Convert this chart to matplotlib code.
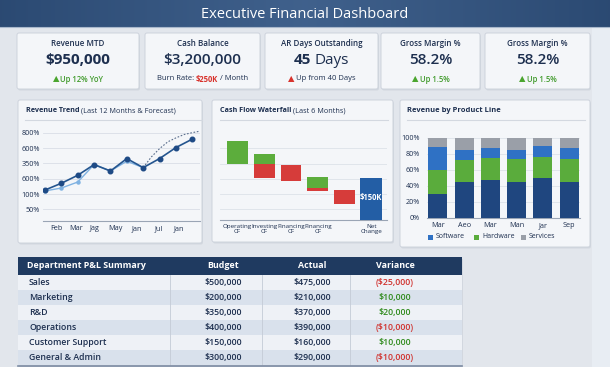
import numpy as np
import matplotlib
matplotlib.use('Agg')
import matplotlib.pyplot as plt
from matplotlib.patches import Rectangle, FancyBboxPatch

plt.rcParams['font.family'] = ['Open Sans', 'DejaVu Sans']

W, H = 610, 367

# ---------------- data ----------------
title = 'Executive Financial Dashboard'

kpi_titles = ['Revenue MTD', 'Cash Balance', 'AR Days Outstanding', 'Gross Margin %', 'Gross Margin %']
kpi_values = ['$950,000', '$3,200,000', '45', '58.2%', '58.2%']

trend_ylabels = ['50%', '100%', '600%', '350%', '600%', '800%']
trend_months = ['Feb', 'Mar', 'Jag', 'May', 'Jan', 'Jul', 'Jan']
trend_month_pos = [0.67, 1.88, 3.05, 4.28, 5.6, 6.92, 8.2]
trend_actual = [1.26, 1.70, 2.22, 2.92, 2.50, 3.31, 2.72, 3.31, 4.03, 4.58]
trend_prior = [1.20, 1.39, 1.78, 2.92, 2.50, 3.14, 2.72]
forecast_x = [6.0, 6.5, 7.0, 7.5, 8.0, 8.5, 9.0, 9.47]
forecast_y = [2.72, 3.42, 3.96, 4.40, 4.66, 4.88, 5.00, 5.10]

wf_labels = ['Operating\nCF', 'Investing\nCF', 'Financing\nCF', 'Financing\nCF', '', 'Net\nChange']
wf_green_bottom = [3.73, 3.73, 0, 2.11, 0, 0]
wf_green_top = [5.27, 4.38, 0, 2.89, 0, 0]
wf_red_bottom = [0, 2.78, 2.60, 1.96, 1.04, 0]
wf_red_top = [0, 3.73, 3.67, 2.11, 2.00, 0]
wf_net = [0, 0, 0, 0, 0, 2.78]
wf_net_label = '$150K'

prod_months = ['Mar', 'Aeo', 'Mar', 'Man', 'Jar', 'Sep']
prod_software = [30, 45, 47.5, 44, 50, 44]
prod_hardware = [30, 27, 26.5, 29, 26, 29]
prod_other = [28, 12, 13, 12, 13, 14]
prod_services = [11, 15, 12, 14, 10, 13]
prod_legend = ['Software', 'Hardware', 'Services']

dept = ['Sales', 'Marketing', 'R&D', 'Operations', 'Customer Support', 'General & Admin']
budget = [500000, 200000, 350000, 400000, 150000, 300000]
actual = [475000, 210000, 370000, 390000, 160000, 290000]

# ---------------- styling ----------------
NAVY = '#1d2f4f'
GREEN_T = '#3f9a2a'
RED_T = '#d8322c'
CARD = '#f4f6f9'
EDGE = '#cdd3dc'

fig = plt.figure(figsize=(W / 100, H / 100), dpi=100)
bg = fig.add_axes([0, 0, 1, 1])
bg.set_xlim(0, W)
bg.set_ylim(H, 0)
bg.axis('off')

# background
gx = np.linspace(0, 1, 200)[None, :]
base = np.array([0.888, 0.905, 0.928])
img = np.ones((100, 200, 3)) * base
img += 0.025 * (gx[..., None] > 0.97)
img = np.clip(img, 0, 1)
bg.imshow(img, extent=[0, W, H, 0], aspect='auto', zorder=0)

# header
hg = np.linspace(0, 1, 300)
hcol = np.zeros((1, 300, 3))
c1 = np.array([0.17, 0.29, 0.45])
c2 = np.array([0.25, 0.38, 0.55])
w = 1 - np.abs(hg - 0.5) * 2
hcol[0] = c1[None, :] * (1 - w[:, None]) + c2[None, :] * w[:, None]
bg.imshow(hcol, extent=[0, W, 27, 0], aspect='auto', zorder=1)
bg.plot([0, W], [27, 27], color='#a9b8cc', lw=0.8, zorder=2)
bg.text(W / 2, 14, title, color='white', fontsize=10.5, ha='center', va='center', zorder=3)

renderer = fig.canvas.get_renderer()


def rich(x, y, parts, ha='center'):
    """parts: list of (text, kwargs, gap_after_px)"""
    objs = []
    total = 0
    for s, kw, gap in parts:
        t = bg.text(0, y, s, ha='left', va='center', zorder=6, **kw)
        wdt = t.get_window_extent(renderer=renderer).width
        objs.append((t, wdt, gap))
        total += wdt + gap
    total -= parts[-1][2]
    start = x - total / 2 if ha == 'center' else x
    for t, wdt, gap in objs:
        t.set_x(start)
        start += wdt + gap


def panel(x0, y0, x1, y1, z=2):
    sh = FancyBboxPatch((x0 + 1, y0 + 1.5), x1 - x0, y1 - y0, boxstyle='round,pad=0,rounding_size=2',
                        fc='#c3cad4', ec='none', alpha=0.5, zorder=z)
    bg.add_patch(sh)
    p = FancyBboxPatch((x0, y0), x1 - x0, y1 - y0, boxstyle='round,pad=0,rounding_size=2',
                       fc=CARD, ec=EDGE, lw=0.7, zorder=z + 0.1)
    bg.add_patch(p)


# KPI cards
cards = [(17, 139), (145, 260), (265, 378), (381, 480), (485, 590)]
for i, (x0, x1) in enumerate(cards):
    panel(x0, 33, x1, 89)
    cx = (x0 + x1) / 2
    bg.text(cx, 44, kpi_titles[i], fontsize=5.8, fontweight='semibold', color=NAVY,
            ha='center', va='center', zorder=6)

c = [(a + b) / 2 for a, b in cards]
bg.text(c[0], 60.5, kpi_values[0], fontsize=11, fontweight='bold', color=NAVY, ha='center', va='center', zorder=6)
bg.text(c[1], 60.5, kpi_values[1], fontsize=11, fontweight='semibold', color=NAVY, ha='center', va='center', zorder=6)
rich(c[2], 60.5, [(kpi_values[2], dict(fontsize=11, fontweight='bold', color=NAVY), 3),
                  ('Days', dict(fontsize=11, color=NAVY), 0)])
bg.text(c[3], 60.5, kpi_values[3], fontsize=11, fontweight='semibold', color=NAVY, ha='center', va='center', zorder=6)
bg.text(c[4], 60.5, kpi_values[4], fontsize=11, fontweight='semibold', color=NAVY, ha='center', va='center', zorder=6)

tri_g = dict(fontsize=6, color='#4aa52e', family=['DejaVu Sans'])
tri_r = dict(fontsize=6, color='#d8322c', family=['DejaVu Sans'])
sub = dict(fontsize=5.5, fontweight='semibold', color=GREEN_T)
rich(c[0], 79, [('▲', tri_g, 1.5), ('Up 12% YoY', sub, 0)])
rich(c[1], 79, [('Burn Rate:', dict(fontsize=5.5, color=NAVY), 2),
                ('$250K', dict(fontsize=5.5, fontweight='bold', color=RED_T), 2),
                ('/ Month', dict(fontsize=5.5, color=NAVY), 0)])
rich(c[2], 79, [('▲', tri_r, 1.5), ('Up from 40 Days', dict(fontsize=5.5, color=NAVY), 0)])
rich(c[3], 79, [('▲', tri_g, 1.5), ('Up 1.5%', sub, 0)])
rich(c[4], 79, [('▲', tri_g, 1.5), ('Up 1.5%', sub, 0)])

# middle panels
panel(18, 100, 202, 243)
panel(212, 100, 393, 242)
panel(400, 100, 590, 247)
for (x0, x1) in [(25, 202), (220, 388), (407, 585)]:
    bg.plot([x0, x1], [120, 120], color='#d3d8e0', lw=0.8, zorder=5)

PT = 5.2
rich(26, 111, [('Revenue Trend', dict(fontsize=PT, fontweight='bold', color=NAVY), 1.8),
               ('(Last 12 Months & Forecast)', dict(fontsize=PT, color=NAVY), 0)], ha='left')
rich(220, 111, [('Cash Flow Waterfall', dict(fontsize=PT, fontweight='bold', color=NAVY), 1.8),
                ('(Last 6 Months)', dict(fontsize=PT, color=NAVY), 0)], ha='left')
rich(407, 111, [('Revenue by Product Line', dict(fontsize=5.4, fontweight='bold', color=NAVY), 0)], ha='left')


def add_ax(x0, y0, x1, y1):
    a = fig.add_axes([x0 / W, 1 - y1 / H, (x1 - x0) / W, (y1 - y0) / H])
    a.set_facecolor('none')
    for s in ['top', 'right', 'left']:
        a.spines[s].set_visible(False)
    a.spines['bottom'].set_color('#9aa5b5')
    a.spines['bottom'].set_linewidth(0.8)
    a.tick_params(length=0, labelsize=5.2, colors=NAVY, pad=2)
    return a


# ---- Revenue trend ----
ax1 = add_ax(43, 125, 200, 221)
xa = np.arange(len(trend_actual))
xp = np.arange(len(trend_prior))
ax1.plot(xp, trend_prior, color='#7fb2e2', lw=1.0, marker='o', ms=2.2, zorder=3)
ax1.plot(forecast_x, forecast_y, color='#5a6e8c', lw=0.8, ls=(0, (1.5, 1.5)), zorder=2)
ax1.plot(xa, trend_actual, color='#24558f', lw=1.2, marker='o', ms=3.3,
         mfc='#1e4a85', mec='#1e4a85', zorder=4)
ax1.set_xlim(-0.12, 9.47)
ax1.set_ylim(-0.76, 5.5)
ax1.set_yticks(range(len(trend_ylabels)))
ax1.set_yticklabels(trend_ylabels)
ax1.set_xticks(trend_month_pos)
ax1.set_xticklabels(trend_months)
ax1.grid(axis='y', color='#d9dee6', lw=0.6)
ax1.set_axisbelow(True)
ax1.tick_params(axis='x', pad=3)

# ---- Waterfall ----
ax2 = add_ax(220, 125, 387, 220)
xw = np.arange(len(wf_labels))
gb = np.array(wf_green_bottom); gt = np.array(wf_green_top)
rb = np.array(wf_red_bottom); rt = np.array(wf_red_top)
ax2.bar(xw, gt - gb, bottom=gb, width=0.78, color='#5cad3c', zorder=3)
ax2.bar(xw, rt - rb, bottom=rb, width=0.78, color='#d63c3a', zorder=3)
ax2.bar(xw, wf_net, width=0.82, color='#235ea5', zorder=3)
ax2.text(xw[-1], wf_net[-1] * 0.55, wf_net_label, color='white', fontsize=5.5,
         fontweight='bold', ha='center', va='center', zorder=5)
ax2.set_xlim(-0.66, 5.59)
ax2.set_ylim(0, 6.33)
ax2.set_yticks([0.72, 1.72, 2.72, 3.72, 4.78])
ax2.set_yticklabels([])
ax2.grid(axis='y', color='#dde2e9', lw=0.6)
ax2.set_axisbelow(True)
ax2.set_xticks(xw)
ax2.set_xticklabels(wf_labels, fontsize=4.5, linespacing=1.05)
ax2.tick_params(axis='x', pad=3)

# ---- Product line ----
ax3 = add_ax(427, 130, 580, 217.7)
xb = np.arange(len(prod_months))
s1 = np.array(prod_software); s2 = np.array(prod_hardware)
s3 = np.array(prod_other); s4 = np.array(prod_services)
ax3.bar(xb, s1, width=0.72, color='#1f467f', zorder=3)
ax3.bar(xb, s2, bottom=s1, width=0.72, color='#5aac3c', zorder=3)
ax3.bar(xb, s3, bottom=s1 + s2, width=0.72, color='#2f71c4', zorder=3)
ax3.bar(xb, s4, bottom=s1 + s2 + s3, width=0.72, color='#9a9fa8', zorder=3)
ax3.set_xlim(-0.41, 5.41)
ax3.set_ylim(0, 109.6)
ax3.set_yticks([0, 20, 40, 60, 80, 100])
ax3.set_yticklabels([f'{v}%' for v in [0, 20, 40, 60, 80, 100]])
ax3.set_xticks(xb)
ax3.set_xticklabels(prod_months)
ax3.grid(axis='y', color='#dde2e9', lw=0.6)
ax3.set_axisbelow(True)
ax3.tick_params(axis='y', pad=5)
ax3.tick_params(axis='x', pad=3)

leg_colors = ['#2f71c4', '#5aac3c', '#9a9fa8']
leg_x = [430, 476, 523]
for lx, lc, lt in zip(leg_x, leg_colors, prod_legend):
    bg.add_patch(Rectangle((lx - 2.5, 234.5), 5, 5, fc=lc, ec='none', zorder=6))
    bg.text(lx + 6, 237, lt, fontsize=5, color=NAVY, ha='left', va='center', zorder=6)

# ---- Table ----
tx0, tx1 = 18, 462
bg.add_patch(Rectangle((tx0 + 1, 258.5), tx1 - tx0, 108, fc='#c3cad4', ec='none', alpha=0.5, zorder=2))
bg.add_patch(Rectangle((tx0, 257), tx1 - tx0, 18, fc='#1f3a60', ec='none', zorder=3))
row_h = 15
col_c = [223, 312, 395]
for i in range(len(dept)):
    y0 = 275 + i * row_h
    bg.add_patch(Rectangle((tx0, y0), tx1 - tx0, row_h, fc='#eef1f6' if i % 2 == 0 else '#d9e1ec',
                           ec='none', zorder=3))
for xv in [170, 262, 350]:
    bg.plot([xv, xv], [275, 365], color='#c4cbd6', lw=0.6, zorder=4)
bg.plot([tx0, tx1], [365.5, 365.5], color='#7d8ca3', lw=1.2, zorder=5)

hdr = dict(fontsize=6.4, fontweight='bold', color='white', va='center', zorder=6)
bg.text(27, 266, 'Department P&L Summary', ha='left', **hdr)
for cx, lab in zip(col_c, ['Budget', 'Actual', 'Variance']):
    bg.text(cx, 266, lab, ha='center', **hdr)


def money(v):
    s = f'${abs(v):,.0f}'
    return f'({s})' if v < 0 else s


for i, (d, b, a) in enumerate(zip(dept, budget, actual)):
    yc = 275 + i * row_h + row_h / 2
    kw = dict(fontsize=6.3, fontweight='semibold', color=NAVY, va='center', zorder=6)
    bg.text(29, yc, d, ha='left', **kw)
    bg.text(col_c[0], yc, money(b), ha='center', **kw)
    bg.text(col_c[1], yc, money(a), ha='center', **kw)
    var = a - b
    kw['color'] = '#d0302c' if var < 0 else '#2f8a1c'
    bg.text(col_c[2], yc, money(var), ha='center', **kw)

fig.savefig('out.png', dpi=100)
